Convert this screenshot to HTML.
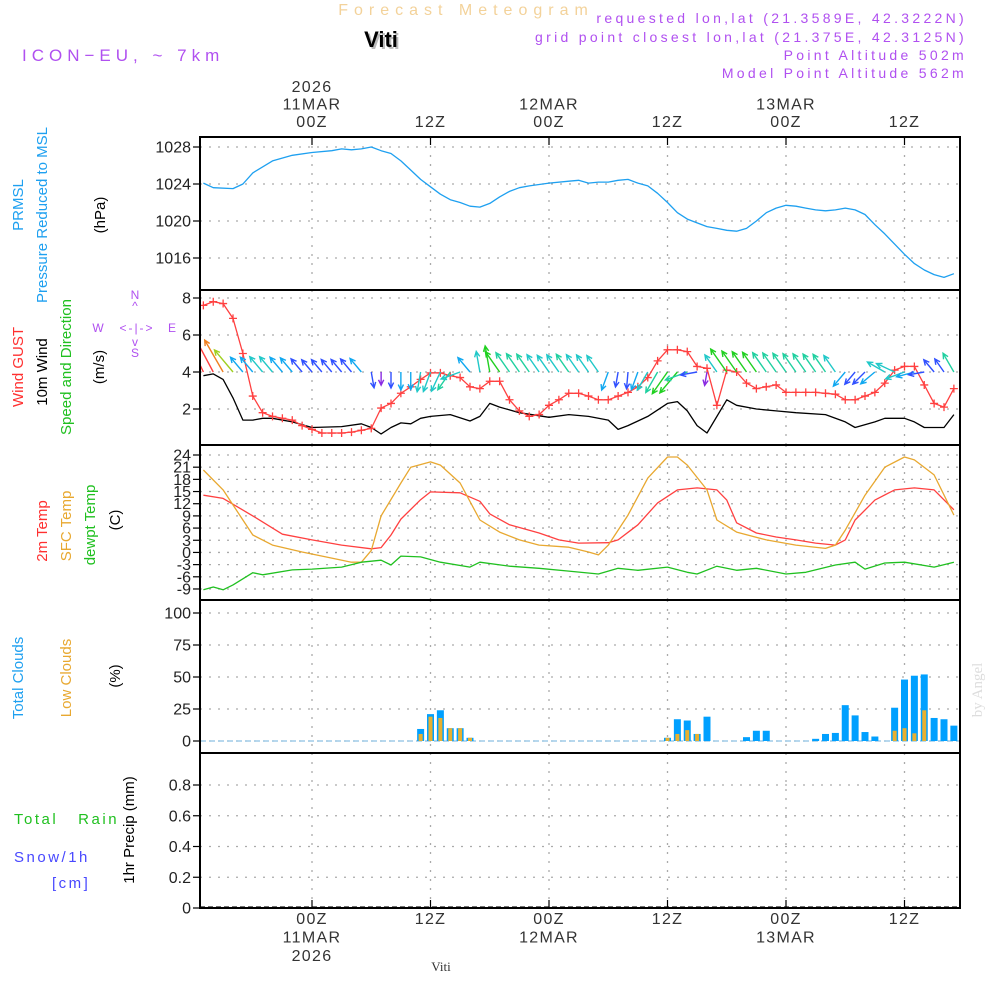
<!DOCTYPE html>
<html><head><meta charset="utf-8"><style>
html,body{margin:0;padding:0;background:#fff;width:1000px;height:1000px;overflow:hidden}
svg{display:block;font-family:"Liberation Sans",sans-serif}
</style></head><body>
<svg id="chart" width="1000" height="1000" viewBox="0 0 1000 1000" xmlns="http://www.w3.org/2000/svg">
<g id="header">
<text x="466" y="15" text-anchor="middle" font-size="16" fill="#f3d29a" letter-spacing="6">Forecast Meteogram</text>
<text x="383" y="49" text-anchor="middle" font-size="22" font-weight="bold" fill="#bbb">Viti</text>
<text x="381" y="47" text-anchor="middle" font-size="22" font-weight="bold" fill="#000">Viti</text>
<text x="22" y="61" font-size="17" fill="#b050f0" letter-spacing="5">ICON−EU, ~ 7km</text>
<g font-size="14" fill="#b050f0" text-anchor="end" letter-spacing="3.3">
<text x="967" y="23">requested lon,lat (21.3589E, 42.3222N)</text>
<text x="967" y="42">grid point closest lon,lat (21.375E, 42.3125N)</text>
<text x="967" y="60">Point Altitude 502m</text>
<text x="967" y="78">Model Point Altitude 562m</text>
</g>
</g>
<g id="leftlabels" font-size="15">
<text transform="translate(23,205) rotate(-90)" text-anchor="middle" fill="#1ea0f0">PRMSL</text>
<text transform="translate(47,215) rotate(-90)" text-anchor="middle" fill="#1ea0f0">Pressure Reduced to MSL</text>
<text transform="translate(105,215) rotate(-90)" text-anchor="middle" fill="#000">(hPa)</text>
<text transform="translate(23,367) rotate(-90)" text-anchor="middle" fill="#ff3030">Wind GUST</text>
<text transform="translate(47,372) rotate(-90)" text-anchor="middle" fill="#000">10m Wind</text>
<text transform="translate(71,367) rotate(-90)" text-anchor="middle" fill="#20c020">Speed and Direction</text>
<text transform="translate(104,367) rotate(-90)" text-anchor="middle" fill="#000">(m/s)</text>
<g fill="#b050f0" font-size="12" text-anchor="middle">
<text x="135" y="299">N</text><text x="135" y="310">^</text>
<text x="98" y="332">W</text><text x="137" y="332" letter-spacing="2">&lt;-|-&gt;</text><text x="172" y="332">E</text>
<text x="135" y="346">v</text><text x="135" y="357">S</text>
</g>
<text transform="translate(47,531) rotate(-90)" text-anchor="middle" fill="#ff3030">2m Temp</text>
<text transform="translate(71,526) rotate(-90)" text-anchor="middle" fill="#e8a830">SFC Temp</text>
<text transform="translate(95,525) rotate(-90)" text-anchor="middle" fill="#20c020">dewpt Temp</text>
<text transform="translate(120,520) rotate(-90)" text-anchor="middle" fill="#000">(C)</text>
<text transform="translate(23,678) rotate(-90)" text-anchor="middle" fill="#1ea0f0">Total Clouds</text>
<text transform="translate(71,678) rotate(-90)" text-anchor="middle" fill="#e8a830">Low Clouds</text>
<text transform="translate(120,676) rotate(-90)" text-anchor="middle" fill="#000">(%)</text>
<text x="14" y="824" fill="#20c020" letter-spacing="2.5">Total&#160;&#160;&#160;Rain</text>
<text x="14" y="862" fill="#4848ff" letter-spacing="2.5">Snow/1h</text>
<text x="52" y="888" fill="#4848ff" letter-spacing="2.5">[cm]</text>
<text transform="translate(134,830) rotate(-90)" text-anchor="middle" fill="#000">1hr Precip (mm)</text>
</g>
<text transform="translate(982,690) rotate(-90)" text-anchor="middle" font-family="Liberation Serif,serif" font-size="15" fill="#ddd">by Angel</text>
<text x="441" y="971" text-anchor="middle" font-family="Liberation Serif,serif" font-size="13" fill="#333">Viti</text>
<g id="grid"></g><g id="marks"></g><g id="frames"></g><g id="labels" font-size="15" fill="#222"></g>
</svg>
<script>
// ---- data (hours relative to 11MAR 00Z) ----
const timeTickHours=[0,12,24,36,48,60];
const timeTickTop=[["2026","11MAR","00Z"],["12Z"],["12MAR","00Z"],["12Z"],["13MAR","00Z"],["12Z"]];
const timeTickBottom=[["00Z","11MAR","2026"],["12Z"],["00Z","12MAR"],["12Z"],["00Z","13MAR"],["12Z"]];
const pressureTicks=[1016,1020,1024,1028];
const windTicks=[2,4,6,8];
const tempTicks=[24,21,18,15,12,9,6,3,0,-3,-6,-9];
const cloudTicks=[0,25,50,75,100];
const precipTicks=[0,0.2,0.4,0.6,0.8];
const pressHours=[-11,-10,-8,-7,-6,-4,-2,0,2,3,4,5,6,7,8,9,10,11,12,13,14,15,16,17,18,19,20,21,22,24,26,27,28,29,30,31,32,33,34,35,36,37,38,39,40,41,42,43,44,45,46,47,48,49,50,51,52,53,54,55,56,57,58,59,60,61,62,63,64,65];
const pressure=[1024.1,1023.6,1023.5,1024.0,1025.2,1026.5,1027.1,1027.4,1027.6,1027.8,1027.7,1027.8,1028.0,1027.6,1027.3,1026.5,1025.5,1024.5,1023.7,1022.9,1022.3,1022.0,1021.6,1021.5,1021.9,1022.6,1023.2,1023.6,1023.8,1024.1,1024.3,1024.4,1024.1,1024.2,1024.2,1024.4,1024.5,1024.1,1023.8,1023.0,1022.0,1020.9,1020.2,1019.8,1019.4,1019.2,1019.0,1018.9,1019.2,1020.0,1020.9,1021.4,1021.7,1021.6,1021.4,1021.2,1021.1,1021.2,1021.4,1021.2,1020.7,1019.6,1018.6,1017.5,1016.4,1015.4,1014.7,1014.2,1013.9,1014.3];
const gust=[7.6,7.8,7.7,6.9,5.0,2.7,1.8,1.6,1.5,1.4,1.1,0.9,0.7,0.7,0.7,0.75,0.85,0.95,2.05,2.3,2.85,3.2,3.6,3.95,3.95,3.8,3.7,3.2,3.1,3.5,3.5,2.5,1.9,1.6,1.7,2.2,2.5,2.85,2.85,2.7,2.5,2.5,2.7,2.9,3.2,3.7,4.6,5.2,5.2,5.1,4.3,4.2,2.2,4.1,4.0,3.4,3.1,3.2,3.3,2.9,2.9,2.9,2.9,2.85,2.8,2.5,2.5,2.7,2.9,3.4,4.1,4.3,4.3,3.3,2.3,2.1,3.1]; // hourly from -11
const windHours=[-11,-10,-9,-8,-7,-6,-5,-4,-2,0,3,5,6,7,8,9,10,11,12,14,16,17,18,19,21,24,26,28,30,31,32,34,36,37,38,39,40,42,43,45,47,49,52,54,55,57,58,60,61,62,64,65];
const windSpeed=[3.8,3.9,3.6,2.6,1.4,1.4,1.5,1.5,1.3,1.0,1.05,1.2,1.0,0.65,1.0,1.25,1.2,1.5,1.6,1.7,1.35,1.6,2.3,2.1,1.8,1.55,1.7,1.6,1.4,0.9,1.1,1.6,2.3,2.4,1.9,1.1,0.7,2.5,2.2,2.0,1.9,1.8,1.7,1.3,1.0,1.3,1.5,1.5,1.3,1.0,1.0,1.7];
const windDir=[-25,-28,-30,-40,-40,-40,-40,-40,-40,-40,-40,-40,-40,-40,-40,-40,-40,170,180,180,180,180,190,200,205,215,250,-40,-10,-10,-35,-35,-35,-35,-35,-35,-35,-35,-35,-35,-35,200,190,185,200,210,210,215,220,250,260,190,-35,-35,-35,-35,-35,-35,-35,-35,-35,-35,-35,-35,-35,220,220,225,230,-60,-65,250,255,260,-40,-35,-30]; // hourly from -11
const t2Hours=[-11,-9,-6,-3,0,3,6,7,8,9,11,12,15,17,18,20,23,25,27,30,31,33,35,37,39,41,42,43,45,47,49,51,53,54,55,57,59,61,63,65];
const temp2m=[14.1,13.3,9.0,4.5,3.1,1.8,0.9,1.2,4.3,8.2,13.0,14.9,14.7,12.6,9.5,6.8,4.8,3.1,2.3,2.4,3.1,6.8,12.2,15.4,15.9,15.4,12.9,7.3,4.8,3.8,3.1,2.3,1.8,3.1,8.0,12.9,15.4,15.9,15.4,10.5];
const sfcHours=[-11,-9,-7,-6,-4,-1,2,4,5,6,7,9,10,12,13,15,17,19,21,23,26,28,29,30,32,34,36,37,38,40,41,43,46,49,52,53,54,56,58,60,61,63,65];
const sfcTemp=[20.3,15.4,8.0,4.3,1.8,0.1,-1.4,-2.4,-2.4,0.5,9.0,17.1,21.0,22.3,21.5,17.1,8.0,5.0,3.1,1.8,1.3,0.1,-0.6,1.8,9.2,18.3,23.5,23.5,21.5,15.4,8.0,5.0,3.1,1.8,1.0,1.8,5.5,14.1,21.0,23.5,22.8,19.1,9.2];
const dewHours=[-11,-10,-9,-8,-6,-5,-2,0,3,5,7,8,9,11,13,16,17,20,23,26,29,31,33,36,38,39,41,43,45,48,50,53,55,56,58,60,63,65];
const dewpt=[-9.2,-8.5,-9.2,-8.0,-5.0,-5.5,-4.3,-4.1,-3.6,-2.4,-1.9,-3.1,-0.9,-1.1,-2.4,-3.6,-2.4,-3.4,-3.9,-4.6,-5.3,-3.9,-4.4,-3.6,-4.9,-5.3,-3.4,-4.4,-3.9,-5.3,-4.9,-3.1,-2.4,-4.1,-2.6,-2.4,-3.6,-2.4];
const cloudHours=[11,12,13,14,15,16,36,37,38,39,40,44,45,46,51,52,53,54,55,56,57,59,60,61,62,63,64,65];
const totalClouds=[9.4,21,24,10,10,2.5,2.5,17,16,5.5,19,3,8,8,1.7,5.5,6.3,28,20,7,3.5,26,48,51,52,18,17,12];
const lowClouds=[5.5,19,18,10,10,2.5,2.5,5.5,8.5,5.5,0,0,0,0,0,0,0,0,0,0,0,8,10,6,24,0,0,0];

// ---- axes ----
const X0=200,X1=960;
const xH=h=>312+h*9.875;
const yP=p=>147+(1028-p)*9.25;
const yW=v=>298+(8-v)*18.5;
const yT=t=>455+(24-t)*4.06;
const yC=c=>741-c*1.28;
const yR=r=>908-r*153.75;
const panels=[[137,290],[290,445],[445,600],[600,753],[753,908]];
const NS="http://www.w3.org/2000/svg";
function mk(tag,attrs,parent){const e=document.createElementNS(NS,tag);for(const k in attrs)e.setAttribute(k,attrs[k]);parent.appendChild(e);return e;}
const grid=document.getElementById('grid'),marks=document.getElementById('marks'),frames=document.getElementById('frames'),labels=document.getElementById('labels');
const dot={stroke:"#aaa","stroke-width":1.3,"stroke-dasharray":"2,7"};

timeTickHours.forEach(h=>{panels.forEach(p=>{
 const l=mk('line',Object.assign({x1:xH(h),x2:xH(h),y1:p[0],y2:p[1]},dot),grid);
 
 
});});
function yAxis(ticks,yf,fmt,name){ticks.forEach(t=>{
 const y=yf(t);
 const g=mk('line',Object.assign({x1:X0,x2:X1,y1:y,y2:y},dot),grid);
 
 
 mk('line',{x1:X0-7,x2:X0,y1:y,y2:y,stroke:"#000","stroke-width":1.2},frames);
 const tx=mk('text',{x:X0-9,y:y+5.5,"text-anchor":"end","font-size":16},labels);
 tx.textContent=fmt(t);
 
 
});}
yAxis(pressureTicks,yP,String,'pressure');
yAxis(windTicks,yW,String,'wind');
yAxis(tempTicks,yT,String,'temp');
yAxis(cloudTicks,yC,String,'cloud');
yAxis(precipTicks,yR,t=>t===0?'0':t.toFixed(1),'precip');

const defs=mk('defs',{},marks);
panels.forEach((p,i)=>{const c=mk('clipPath',{id:'cp'+i},defs);mk('rect',{x:X0,y:p[0],width:X1-X0,height:p[1]-p[0]},c);});
function line(hs,vs,yf,color,clip,name,w){
 const d=hs.map((h,i)=>(i?'L':'M')+xH(h).toFixed(1)+','+yf(vs[i]).toFixed(1)).join('');
 const e=mk('path',{d:d,fill:'none',stroke:color,'stroke-width':w||1.3,'clip-path':'url(#cp'+clip+')','stroke-linejoin':'round'},marks);
 
 
}
line(pressHours,pressure,yP,'#1ea0f0',0,'pressure-line');
const gustHours=gust.map((_,i)=>i-11);
line(windHours,windSpeed,yW,'#000',1,'wind-speed-line');
line(gustHours,gust,yW,'#ff4040',1,'gust-line');
gustHours.forEach((h,i)=>{const x=xH(h),y=yW(gust[i]);
 const m=mk('path',{d:`M${x-4},${y}H${x+4}M${x},${y-4}V${y+4}`,stroke:'#ff4040','stroke-width':1.3},marks);
 
 
});
function speedAt(h){for(let i=0;i<windHours.length-1;i++){if(h<=windHours[i+1]){const f=(h-windHours[i])/(windHours[i+1]-windHours[i]);return windSpeed[i]+f*(windSpeed[i+1]-windSpeed[i]);}}return windSpeed[windSpeed.length-1];}
function col(s){if(s<0.9)return'#8a2be2';if(s<1.2)return'#3050ff';if(s<1.45)return'#10a8f0';if(s<1.7)return'#20c8c8';if(s<2.0)return'#20d0a0';if(s<2.6)return'#20d020';if(s<3.2)return'#a0d020';if(s<3.7)return'#f08020';return'#ff4040';}
windDir.forEach((d,i)=>{const h=i-11,s=speedAt(h),L=8+8*s,a=d*Math.PI/180;
 const x=xH(h),y=yW(4),x2=x+L*Math.sin(a),y2=y-L*Math.cos(a);
 const b1=a+Math.PI-0.45,b2=a+Math.PI+0.45;
 const c=col(s);
 const g=mk('path',{d:`M${x},${y}L${x2},${y2}M${x2+6*Math.sin(b1)},${y2-6*Math.cos(b1)}L${x2},${y2}L${x2+6*Math.sin(b2)},${y2-6*Math.cos(b2)}`,stroke:c,'stroke-width':1.4,fill:'none','clip-path':'url(#cp1)'},marks);
 
 
});
line(t2Hours,temp2m,yT,'#ff4040',2,'temp-2m-line');
line(sfcHours,sfcTemp,yT,'#e8a830',2,'sfc-temp-line');
line(dewHours,dewpt,yT,'#20c020',2,'dewpt-line');
const z=mk('line',{x1:X0,x2:X1,y1:yC(0),y2:yC(0),stroke:'#9fcbe8','stroke-width':1.5,'stroke-dasharray':'6,3'},marks);


cloudHours.forEach((h,i)=>{const x=xH(h);
 const b=mk('rect',{x:x-3.5,y:yC(totalClouds[i]),width:7,height:yC(0)-yC(totalClouds[i]),fill:'#00a0ff','clip-path':'url(#cp3)'},marks);
 
 
 if(lowClouds[i]>0){const o=mk('rect',{x:x-2,y:yC(lowClouds[i]),width:4,height:yC(0)-yC(lowClouds[i]),fill:'#e8b030'},marks);
 
 }
});
const pz=mk('line',{x1:X0,x2:X1,y1:yR(0)-1,y2:yR(0)-1,stroke:'#444','stroke-width':1.5,'stroke-dasharray':'5,3'},marks);


panels.forEach(p=>{const r=mk('rect',{x:X0,y:p[0],width:X1-X0,height:p[1]-p[0],fill:'none',stroke:'#000','stroke-width':2},frames);
 
 });
timeTickHours.forEach((h,i)=>{const x=xH(h);
 mk('line',{x1:x,x2:x,y1:137,y2:145,stroke:'#000','stroke-width':1.2},frames);
 mk('line',{x1:x,x2:x,y1:900,y2:908,stroke:'#000','stroke-width':1.2},frames);
 const top=timeTickTop[i];top.forEach((s,j)=>{const t=mk('text',{x:x,y:127-(top.length-1-j)*17.5,'text-anchor':'middle','font-size':16,fill:'#333','letter-spacing':1.3},labels);t.textContent=s;
 
 });
 timeTickBottom[i].forEach((s,j)=>{const t=mk('text',{x:x,y:924+j*18.5,'text-anchor':'middle','font-size':16,fill:'#333','letter-spacing':1.3},labels);t.textContent=s;
 
 });
});
</script>
</body></html>
